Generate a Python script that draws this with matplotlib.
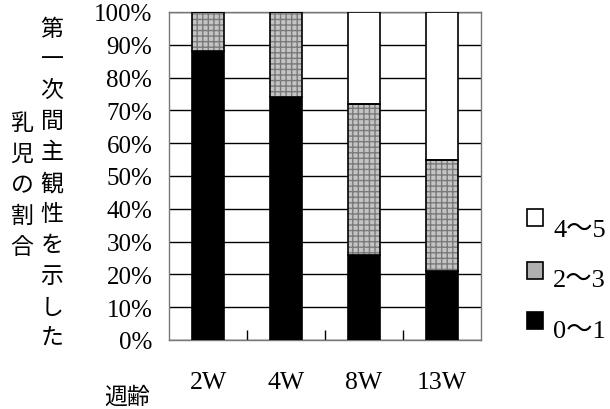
import matplotlib
matplotlib.use('Agg')
import matplotlib.pyplot as plt
import numpy as np

# データ（%）
weeks = ['2W', '4W', '8W', '13W']
score_0_1 = [88, 74, 26, 21]
score_2_3 = [12, 26, 46, 34]
score_4_5 = [0, 0, 28, 45]
legend_labels = ['4～5', '2～3', '0～1']
y_ticks = list(range(0, 101, 10))

col_right = '第一次間主観性を示した'
col_left = '乳児の割合'
x_title = '週齢'

serif = ['Liberation Serif', 'Noto Sans CJK JP']
jp = ['Noto Sans CJK JP', 'DejaVu Sans']

fig = plt.figure(figsize=(6.1, 4.1), dpi=100)
ax = fig.add_axes([169 / 610, 1 - 341 / 410, 312 / 610, 328 / 410])

x = np.arange(len(weeks))
w = 0.42
b1 = np.array(score_0_1)
b2 = b1 + np.array(score_2_3)

ax.bar(x, score_0_1, w, color='black', edgecolor='black', linewidth=1.2, zorder=3)
# 網掛け部分
ax.bar(x, score_2_3, w, bottom=b1, color='#c4c4c4', edgecolor='#7a7a7a',
       hatch='+++', linewidth=0, zorder=3)
ax.bar(x, score_2_3, w, bottom=b1, fill=False, edgecolor='black', linewidth=1.2, zorder=4)
ax.bar(x, score_4_5, w, bottom=b2, color='white', edgecolor='black', linewidth=1.2, zorder=3)

ax.set_xlim(-0.5, 3.5)
ax.set_ylim(0, 100)
ax.set_yticks(y_ticks)
ax.set_yticklabels([f'{v}%' for v in y_ticks], family=serif, fontsize=18)
ax.set_xticks(x)
ax.set_xticklabels(weeks, family=serif, fontsize=18.5)
ax.tick_params(axis='x', length=0, pad=22)
ax.tick_params(axis='y', length=0, pad=12)
ax.set_xticks([0.5, 1.5, 2.5], minor=True)
ax.tick_params(axis='x', which='minor', direction='in', length=7, width=1, color='black')

ax.yaxis.grid(True, color='black', linewidth=1)
ax.set_axisbelow(True)
for s in ax.spines.values():
    s.set_color('#777777')
    s.set_linewidth(1)

# 縦書きラベル
for i, ch in enumerate(col_right):
    fig.text(52 / 610, 1 - (29 + i * 30.9) / 410, ch, family=jp, fontsize=16.5,
             ha='center', va='center')
for i, ch in enumerate(col_left):
    fig.text(22 / 610, 1 - (123.7 + i * 30.9) / 410, ch, family=jp, fontsize=16.5,
             ha='center', va='center')
fig.text(127 / 610, 1 - 397 / 410, x_title, family=jp, fontsize=16.5,
         ha='center', va='center')

# 凡例
sq_y = [210, 263, 313]
text_base = [237, 287, 338]
styles = [dict(facecolor='white'), dict(facecolor='#b0b0b0'), dict(facecolor='black')]
for sy, tb, lab, st in zip(sq_y, text_base, legend_labels, styles):
    fig.patches.append(plt.Rectangle((527 / 610, 1 - (sy + 17) / 410), 16 / 610, 17 / 410,
                                     transform=fig.transFigure, edgecolor='black',
                                     linewidth=1.2, **st))
    fig.text(553 / 610, 1 - tb / 410, lab, family=serif, fontsize=19,
             ha='left', va='baseline')

fig.savefig('out.png', dpi=100)
